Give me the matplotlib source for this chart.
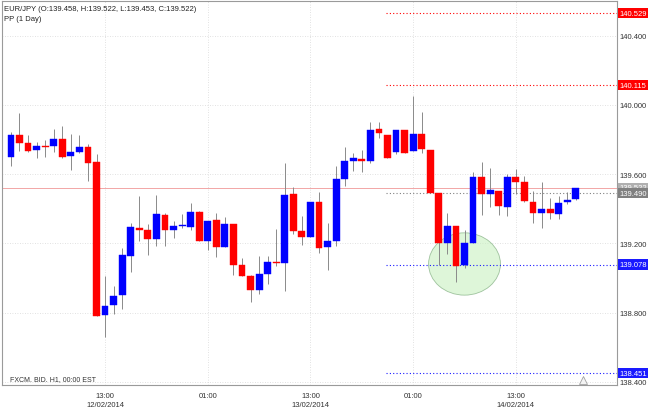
import matplotlib
matplotlib.use("Agg")
import matplotlib.pyplot as plt
import matplotlib.transforms as mtransforms
from matplotlib.patches import Ellipse
import numpy as np

plt.rcParams['font.family'] = ['Liberation Sans', 'DejaVu Sans']

# hourly candles, index 0 = 12/02/2014 02:00 EST
opens = [139.697, 139.826, 139.778, 139.741, 139.762, 139.760, 139.803, 139.706, 139.726, 139.755,
         139.672, 138.788, 138.844, 138.902, 139.126, 139.289, 139.277, 139.225, 139.364, 139.276,
         139.300, 139.295, 139.383, 139.214, 139.333, 139.181, 139.312, 139.075, 139.014, 138.933,
         139.023, 139.094, 139.085, 139.483, 139.272, 139.239, 139.437, 139.181, 139.212, 139.572,
         139.674, 139.687, 139.677, 139.860, 139.826, 139.726, 139.856, 139.735, 139.831, 139.739,
         139.489, 139.202, 139.302, 139.075, 139.202, 139.582, 139.485, 139.504, 139.412, 139.582,
         139.553, 139.441, 139.376, 139.399, 139.370, 139.437, 139.458]
highs = [139.841, 139.951, 139.826, 139.784, 139.799, 139.860, 139.876, 139.831, 139.827, 139.774,
         139.716, 139.010, 138.956, 139.172, 139.316, 139.472, 139.312, 139.479, 139.376, 139.331,
         139.368, 139.433, 139.386, 139.329, 139.374, 139.351, 139.312, 139.114, 139.018, 139.126,
         139.126, 139.283, 139.664, 139.524, 139.360, 139.437, 139.498, 139.316, 139.645, 139.755,
         139.720, 139.741, 139.899, 139.899, 139.826, 139.853, 139.856, 140.049, 139.957, 139.739,
         139.489, 139.376, 139.302, 139.279, 139.610, 139.672, 139.634, 139.504, 139.601, 139.629,
         139.587, 139.504, 139.553, 139.460, 139.472, 139.498, 139.522]
lows = [139.649, 139.732, 139.726, 139.693, 139.697, 139.726, 139.693, 139.624, 139.722, 139.558,
        138.780, 138.658, 138.792, 138.821, 139.037, 139.212, 139.133, 139.183, 139.187, 139.229,
        139.289, 139.279, 139.216, 139.162, 139.123, 139.181, 139.018, 139.014, 138.860, 138.906,
        138.966, 139.072, 138.925, 139.254, 139.193, 139.239, 139.145, 139.046, 139.187, 139.533,
        139.620, 139.610, 139.664, 139.808, 139.695, 139.714, 139.720, 139.735, 139.720, 139.489,
        139.075, 139.139, 138.976, 139.056, 139.202, 139.364, 139.408, 139.364, 139.360, 139.485,
        139.437, 139.316, 139.287, 139.341, 139.341, 139.427, 139.453]
closes = [139.827, 139.778, 139.735, 139.760, 139.756, 139.803, 139.700, 139.729, 139.755, 139.664,
          138.783, 138.840, 138.898, 139.135, 139.293, 139.279, 139.225, 139.370, 139.277, 139.299,
          139.306, 139.383, 139.216, 139.329, 139.181, 139.310, 139.077, 139.014, 138.933, 139.023,
          139.091, 139.089, 139.481, 139.273, 139.239, 139.437, 139.173, 139.212, 139.572, 139.674,
          139.693, 139.677, 139.855, 139.836, 139.695, 139.853, 139.720, 139.831, 139.745, 139.489,
          139.202, 139.302, 139.071, 139.202, 139.582, 139.485, 139.508, 139.414, 139.582, 139.553,
          139.443, 139.376, 139.399, 139.376, 139.433, 139.452, 139.522]

# daily pivot levels (start hour index of the new day)
pivot_names = ['R2', 'R1', 'PP', 'S1', 'S2']
pivot_values = [140.529, 140.115, 139.490, 139.078, 138.451]
pivot_colors = ['#ff0000', '#ff0000', '#808080', '#1a1aff', '#1a1aff']
pivot_start = 43.8
last_price = 139.522

tick_pos = [11, 23, 35, 47, 59]
tick_labels = ['13:00\n12/02/2014', '01:00', '13:00\n13/02/2014', '01:00', '13:00\n14/02/2014']
y_ticks = [138.4, 138.8, 139.2, 139.6, 140.0, 140.4]

fig = plt.figure(figsize=(6.5, 4.1), dpi=100)
ax = fig.add_axes([0.003, 0.059, 0.946, 0.936])

x = np.arange(len(opens))
o = np.array(opens)
c = np.array(closes)
up = c >= o
cols = np.where(up, '#0000ff', '#ff0000')
bottom = np.minimum(o, c)
height = np.maximum(np.abs(c - o), 0.005)

# highlighted area
ax.add_patch(Ellipse((53.0, 139.081), 8.4, 0.36, fc='#c8f0c0', ec='#6a9e6a',
                     lw=0.6, alpha=0.6, zorder=1.5))

ax.vlines(x, lows, highs, color='#8a8a8a', lw=0.7, zorder=2)
ax.bar(x, height, bottom=bottom, width=0.8, color=cols, edgecolor=cols, lw=0.3, zorder=3)

# current price line
ax.axhline(last_price, color='#f2a6a6', lw=0.7, zorder=1)

trans = mtransforms.blended_transform_factory(ax.transAxes, ax.transData)
for val, col in zip(pivot_values, pivot_colors):
    ax.hlines(val, pivot_start, 70.8, colors=col, linestyles=(0, (1, 2)), lw=0.8, zorder=2)

# right side value boxes
ax.text(1.004, last_price, '%.3f' % last_price, transform=trans, fontsize=5.5, color='white',
        va='center', ha='left', bbox=dict(boxstyle='square,pad=0.2', fc='#b0b0b0', ec='none'),
        clip_on=False, zorder=5)
for val, col in zip(pivot_values, pivot_colors):
    ax.text(1.004, val, '%.3f' % val, transform=trans, fontsize=5.5, color='white',
            va='center', ha='left', bbox=dict(boxstyle='square,pad=0.2', fc=col, ec='none'),
            clip_on=False, zorder=6)

ax.set_xlim(-1.05, 70.8)
ax.set_ylim(138.383, 140.6)
ax.set_xticks(tick_pos)
ax.set_xticklabels(tick_labels, fontsize=5.5, color='#333333', linespacing=1.4)
ax.set_yticks(y_ticks)
ax.set_yticklabels(['%.3f' % v for v in y_ticks], fontsize=5.5, color='#333333')
ax.yaxis.tick_right()
ax.tick_params(axis='both', length=0)
ax.tick_params(axis='y', pad=2)
ax.tick_params(axis='x', pad=5)
ax.grid(True, color='#d8d8d8', linestyle=(0, (1, 2)), lw=0.6)
ax.set_axisbelow(True)
for s in ax.spines.values():
    s.set_color('#9a9a9a')
    s.set_linewidth(0.8)

# marker at bottom right
ax.plot([66.8], [0.012], marker='^', ms=6, mfc='#f4f4f4', mec='#a0a0a0', mew=0.6,
        transform=mtransforms.blended_transform_factory(ax.transData, ax.transAxes),
        clip_on=False, zorder=4)

ax.text(0.003, 0.99, 'EUR/JPY (O:139.458, H:139.522, L:139.453, C:139.522)', transform=ax.transAxes,
        fontsize=5.5, color='#222222', va='top', ha='left')
ax.text(0.003, 0.963, 'PP (1 Day)', transform=ax.transAxes,
        fontsize=5.5, color='#222222', va='top', ha='left')
ax.text(0.013, 0.008, 'FXCM. BID. H1, 00:00 EST', transform=ax.transAxes,
        fontsize=5, color='#333333', va='bottom', ha='left')

fig.savefig('out.png', dpi=100)
